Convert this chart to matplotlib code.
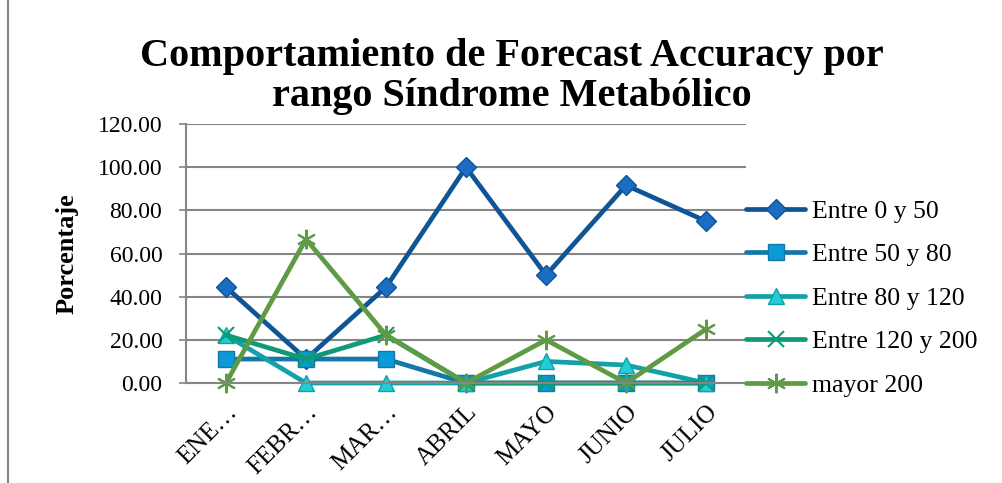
import matplotlib
matplotlib.use("Agg")
import matplotlib.pyplot as plt
from matplotlib.patches import Rectangle

months = ["ENE…", "FEBR…", "MAR…", "ABRIL", "MAYO", "JUNIO", "JULIO"]
series_names = ["Entre 0 y 50", "Entre 50 y 80", "Entre 80 y 120",
                "Entre 120 y 200", "mayor 200"]
entre_0_50 = [44.44, 11.11, 44.44, 100.00, 50.00, 91.67, 75.00]
entre_50_80 = [11.11, 11.11, 11.11, 0.00, 0.00, 0.00, 0.00]
entre_80_120 = [22.22, 0.00, 0.00, 0.00, 10.00, 8.33, 0.00]
entre_120_200 = [22.22, 11.11, 22.22, 0.00, 0.00, 0.00, 0.00]
mayor_200 = [0.00, 66.67, 22.22, 0.00, 20.00, 0.00, 25.00]
y_ticks = [0, 20, 40, 60, 80, 100, 120]

styles = [
    dict(color="#0F5494", marker="D", mfc="#1A6CC4", mec="#0F5494", ms=10),
    dict(color="#1477A8", marker="s", mfc="#0A9AD6", mec="#1477A8", ms=11),
    dict(color="#13A0A8", marker="^", mfc="#22CDD8", mec="#13A0A8", ms=11),
    dict(color="#0E9A74", marker="x", mfc="#0E9A74", mec="#0E9A74", ms=11, mew=1.5),
    dict(color="#5F9A45", marker=(6, 2, 0), mfc="#5F9A45", mec="#5F9A45", ms=14, mew=1.5),
]

plt.rcParams["font.family"] = ["Liberation Serif", "DejaVu Serif"]

fig = plt.figure(figsize=(10.02, 4.83), dpi=100)
fig.patches.append(Rectangle((0.008, -0.02), 1.2, 1.2, transform=fig.transFigure,
                             fill=False, edgecolor="#868686", linewidth=1.5))

ax = fig.add_axes([0.1856, 0.207, 0.559, 0.536])
x = list(range(len(months)))
all_values = [entre_0_50, entre_50_80, entre_80_120, entre_120_200, mayor_200]
for name, vals, st in zip(series_names, all_values, styles):
    ax.plot(x, vals, label=name, linewidth=3.4, solid_joinstyle="round",
            solid_capstyle="round", clip_on=False, **st)

ax.set_xlim(-0.5, len(months) - 0.5)
ax.set_ylim(0, 120)
ax.set_yticks(y_ticks)
ax.set_yticklabels([f"{v:.2f}" for v in y_ticks], fontsize=17)
ax.set_xticks(x)
ax.set_xticklabels(months, rotation=45, ha="right", rotation_mode="anchor",
                   fontsize=18)
ax.tick_params(axis="x", length=0, pad=13)
ax.tick_params(axis="y", length=5, width=1.2, color="#868686", pad=12)
ax.grid(axis="y", color="#868686", linewidth=1.5)
ax.set_axisbelow(True)
for side in ("top", "right"):
    ax.spines[side].set_visible(False)
for side in ("left", "bottom"):
    ax.spines[side].set_color("#868686")
    ax.spines[side].set_linewidth(1.5)

ax.set_ylabel("Porcentaje", fontsize=19, fontweight="bold", labelpad=14)

fig.text(0.511, 0.842, "Comportamiento de Forecast Accuracy por\nrango Síndrome Metabólico",
         ha="center", va="center", fontsize=29, fontweight="bold", linespacing=1.12)

leg = ax.legend(loc="center left", bbox_to_anchor=(1.0, 0.328), frameon=False,
                fontsize=18.5, handlelength=2.3, labelspacing=0.8, borderaxespad=0,
                handletextpad=0.25, borderpad=0)

fig.savefig("out.png", dpi=100)
